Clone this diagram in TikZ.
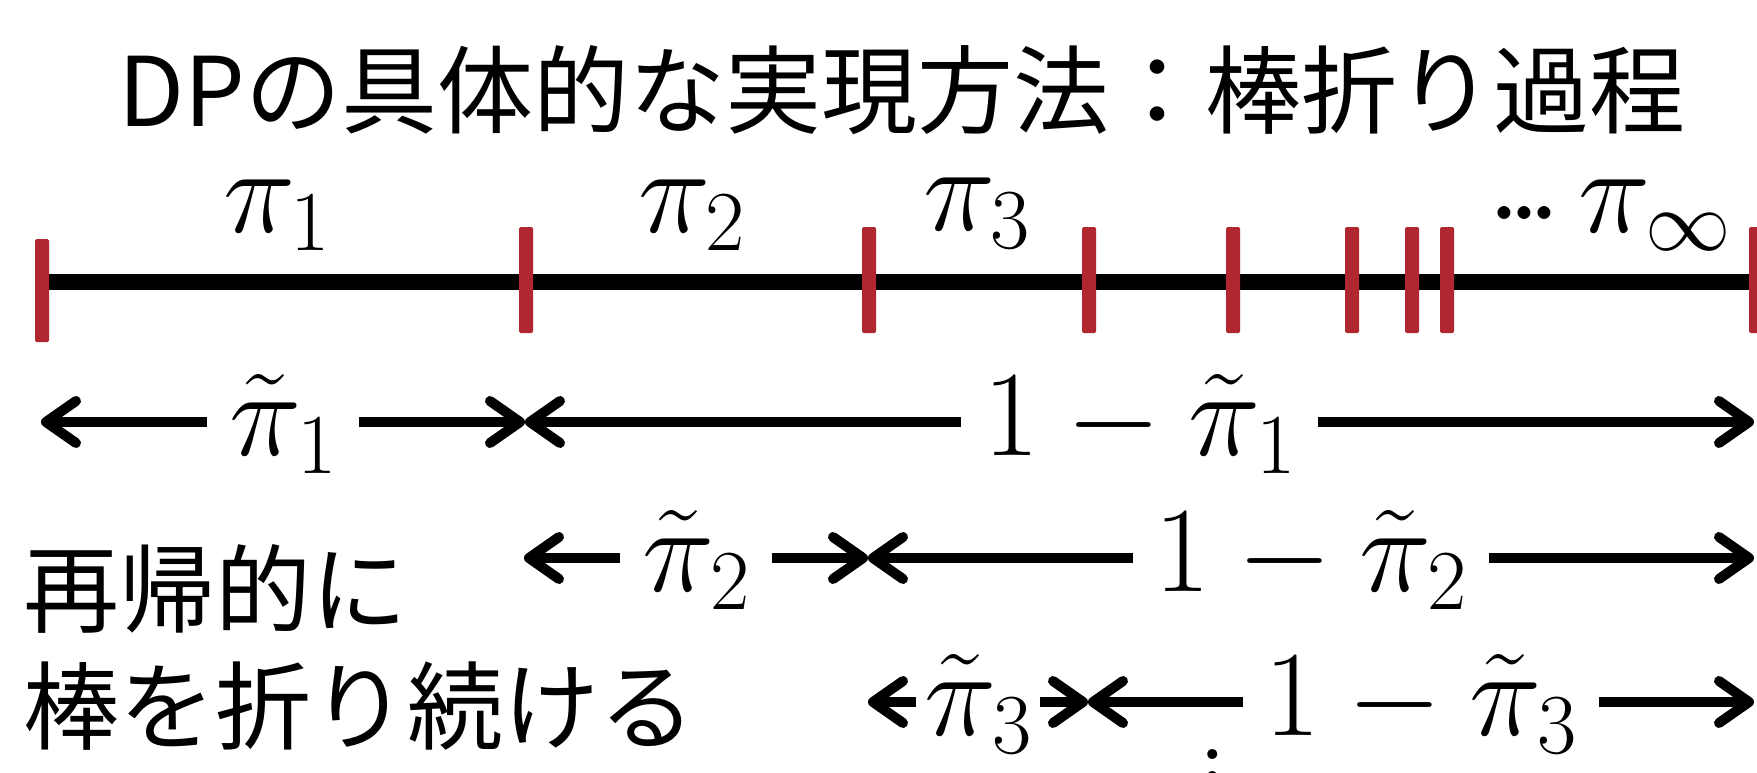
\RequirePackage{fix-cm}
\documentclass[tikz,border=0pt]{standalone}
\usepackage{fontspec}
\newfontfamily\cjk{Noto Sans CJK JP}
\usetikzlibrary{arrows.meta}
\definecolor{tickred}{RGB}{176,39,48}
\newcommand\mymath{\fontsize{122}{140}\selectfont}
\newcommand\myjp{\cjk\fontsize{96}{117}\selectfont}
\newcommand\tightcdots{\mathord{\cdot}\mkern-2mu\mathord{\cdot}\mkern-2mu\mathord{\cdot}}
\newcommand\tallvdots{\vbox{\baselineskip=22pt\lineskiplimit=-100pt\hbox{.}\hbox{.}\hbox{.}}}
\tikzset{
  bar/.style={line width=16pt},
  tickmark/.style={fill=tickred, draw=none, rounded corners=1.5pt, minimum width=14pt, minimum height=106pt, inner sep=0pt},
  dim/.style={line width=10pt, {Straight Barb[length=30pt,width=42pt,round]}-{Straight Barb[length=30pt,width=42pt,round]}},
  lbl/.style={fill=white, inner xsep=22pt, inner ysep=0pt, anchor=base, yshift=-33pt, font=\mymath},
  toplbl/.style={anchor=base west, inner sep=0pt, font=\mymath},
  jp/.style={font=\myjp, inner sep=0pt},
}
\begin{document}
\begin{tikzpicture}[x=1pt,y=-1pt]
\useasboundingbox (0,0) rectangle (1757,773);
% title
\node[jp] (title) at (902,90) {DPの具体的な実現方法：棒折り過程};
% stick
\coordinate (s0) at (42,282);
\coordinate (s1) at (1762,282);
\draw[bar] (s0) -- (s1);
% ticks
\node[tickmark, minimum height=103pt] (t0) at (42,290.5) {};
\node[tickmark] (t1) at (526,280) {};
\node[tickmark] (t2) at (869,280) {};
\node[tickmark] (t3) at (1089,280) {};
\node[tickmark] (t4) at (1233,280) {};
\node[tickmark] (t5) at (1352,280) {};
\node[tickmark] (t6) at (1412,280) {};
\node[tickmark] (t7) at (1447,280) {};
\node[tickmark] (t8) at (1756,280) {};
% labels above
\node[toplbl] (p1) at (223,232) {$\pi_1$};
\node[toplbl] (p2) at (638,232) {$\pi_2$};
\node[toplbl] (p3) at (923,230) {$\pi_3$};
\node[toplbl] (dots) at (1487,243) {$\tightcdots$};
\node[toplbl] (pinf) at (1578,232) {$\pi_\infty$};
% row 1
\coordinate (a0) at (41,422);
\coordinate (a1) at (525,422);
\coordinate (a2) at (1754,422);
\draw[dim] (a0) -- node[lbl] (l1) {$\tilde{\pi}_1$} (a1);
\draw[dim] (a1) -- node[lbl] (m1) {$1-\tilde{\pi}_1$} (a2);
% row 2
\coordinate (b0) at (524,558);
\coordinate (b1) at (868,558);
\coordinate (b2) at (1754,558);
\draw[dim] (b0) -- node[lbl] (l2) {$\tilde{\pi}_2$} (b1);
\draw[dim] (b1) -- node[lbl] (m2) {$1-\tilde{\pi}_2$} (b2);
% row 3
\coordinate (c0) at (868,702);
\coordinate (c1) at (1088,702);
\coordinate (c2) at (1754,702);
\draw[dim] (c0) -- node[lbl, inner xsep=8pt] (l3) {$\tilde{\pi}_3$} (c1);
\draw[dim] (c1) -- node[lbl] (m3) {$1-\tilde{\pi}_3$} (c2);
% vertical dots
\node[font=\mymath, inner sep=0pt, anchor=north] (vd) at (1213,749) {\tallvdots};
% side text
\node[jp, anchor=west, align=left] (side) at (23,647) {再帰的に\\棒を折り続ける};
\end{tikzpicture}
\end{document}
